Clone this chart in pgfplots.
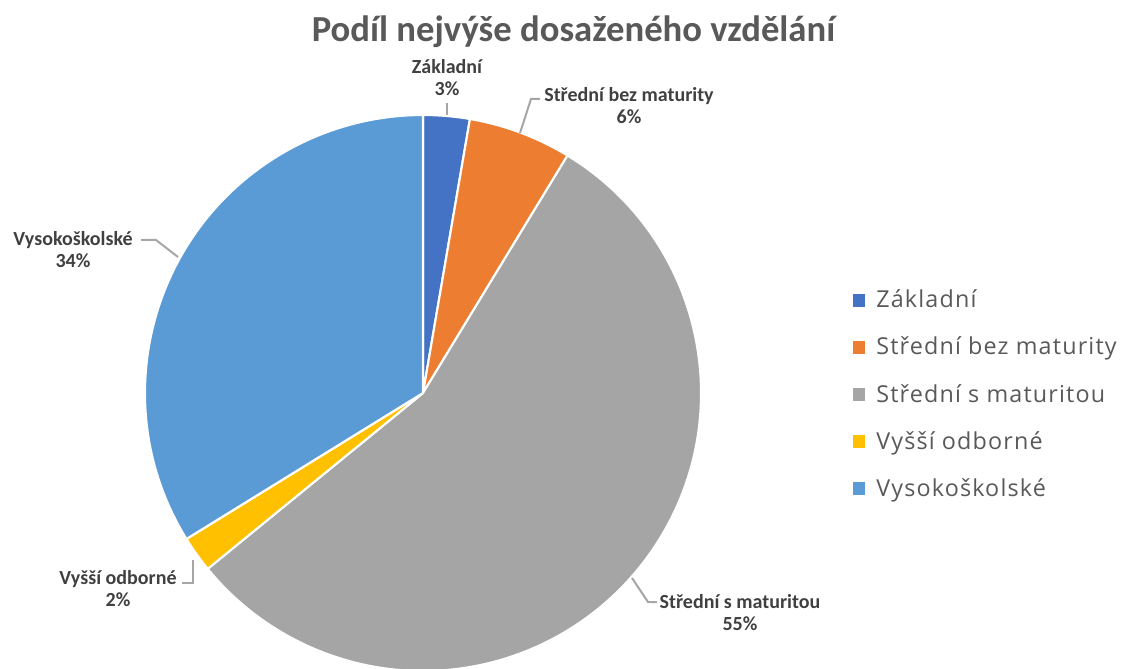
\documentclass[border=0pt]{standalone}
\usepackage{fontspec}
\setmainfont{Carlito}
\newfontfamily\legfont[LetterSpace=5]{Open Sans}
\usepackage{pgfplots}
\usepackage{pgfplotstable}
\pgfplotsset{compat=1.18}
\definecolor{cZak}{HTML}{4472C4}
\definecolor{cSbm}{HTML}{ED7D31}
\definecolor{cSsm}{HTML}{A5A5A5}
\definecolor{cVyo}{HTML}{FFC000}
\definecolor{cVys}{HTML}{5B9BD5}
\definecolor{titc}{HTML}{595959}
\definecolor{labc}{HTML}{404040}
\definecolor{leadc}{HTML}{A6A6A6}

\tikzset{
  leader/.style={leadc,line width=1.5pt},
  lab/.style={align=center,text=labc,font=\bfseries\fontsize{15}{16.5}\selectfont},
  legtext/.style={anchor=base west,text=titc,inner sep=0pt,font=\legfont\fontsize{17.5}{19}\selectfont},
}

% share of each category in percent, clockwise from the top
\pgfplotstableread{
value color
2.7  cZak
6.0  cSbm
55.4 cSsm
2.1  cVyo
33.8 cVys
}\piedata

\begin{document}
\begin{tikzpicture}
\begin{axis}[
  x=0.75pt,y=0.75pt,
  xmin=0,xmax=1123,ymin=0,ymax=668,
  hide axis,clip=true,
]
\coordinate (bl) at (axis cs:0,0);
\coordinate (tr) at (axis cs:1123,668);
% pie slices
\pgfplotstablegetrowsof{\piedata}
\pgfmathtruncatemacro\lastrow{\pgfplotsretval-1}
\def\cum{0}
\pgfplotsforeachungrouped \i in {0,...,\lastrow}{%
  \pgfplotstablegetelem{\i}{value}\of\piedata \let\val\pgfplotsretval
  \pgfplotstablegetelem{\i}{color}\of\piedata \let\col\pgfplotsretval
  \pgfmathsetmacro\sa{90-3.6*\cum}
  \pgfmathsetmacro\ea{90-3.6*(\cum+\val)}
  \pgfmathsetmacro\sx{423+278*cos(\sa)}
  \pgfmathsetmacro\sy{275+278*sin(\sa)}
  \edef\temp{\noexpand\filldraw[fill=\col,draw=white,line width=1.6pt,line join=round]
    (axis cs:423,275) -- (axis cs:\sx,\sy) arc[start angle=\sa,end angle=\ea,radius=208.5pt] -- cycle;}
  \temp
  \pgfmathsetmacro\cum{\cum+\val}
}

% title
\node[anchor=base,inner sep=0pt,text=titc,font=\bfseries\fontsize{27.5}{30}\selectfont] at (axis cs:573.5,626) {Podíl nejvýše dosaženého vzdělání};

% data labels with leader lines
\node[lab] at (axis cs:447,590) {Základní\\3\%};
\draw[leader] (axis cs:447,565) -- (axis cs:447,553);
\node[lab] at (axis cs:629,562) {Střední bez maturity\\6\%};
\draw[leader] (axis cs:520,535) -- (axis cs:531,569) -- (axis cs:540,569);
\node[lab] at (axis cs:73,418) {Vysokoškolské\\34\%};
\draw[leader] (axis cs:141,428) -- (axis cs:156,428) -- (axis cs:178,411);
\node[lab] at (axis cs:118,79) {Vyšší odborné\\2\%};
\draw[leader] (axis cs:182,85) -- (axis cs:193,85) -- (axis cs:193,108);
\node[lab] at (axis cs:740,55) {Střední s maturitou\\55\%};
\draw[leader] (axis cs:632,90) -- (axis cs:648,66) -- (axis cs:657,66);

% legend
\fill[cZak] (axis cs:853,374) rectangle (axis cs:865,361);
\node[legtext] at (axis cs:876,360) {Základní};
\fill[cSbm] (axis cs:853,327) rectangle (axis cs:865,314);
\node[legtext] at (axis cs:876,313) {Střední bez maturity};
\fill[cSsm] (axis cs:853,280) rectangle (axis cs:865,267);
\node[legtext] at (axis cs:876,266) {Střední s maturitou};
\fill[cVyo] (axis cs:853,233) rectangle (axis cs:865,220);
\node[legtext] at (axis cs:876,219) {Vyšší odborné};
\fill[cVys] (axis cs:853,186) rectangle (axis cs:865,173);
\node[legtext] at (axis cs:876,172) {Vysokoškolské};
\end{axis}
\pgfresetboundingbox
\useasboundingbox (bl) rectangle (tr);
\end{tikzpicture}
\end{document}
